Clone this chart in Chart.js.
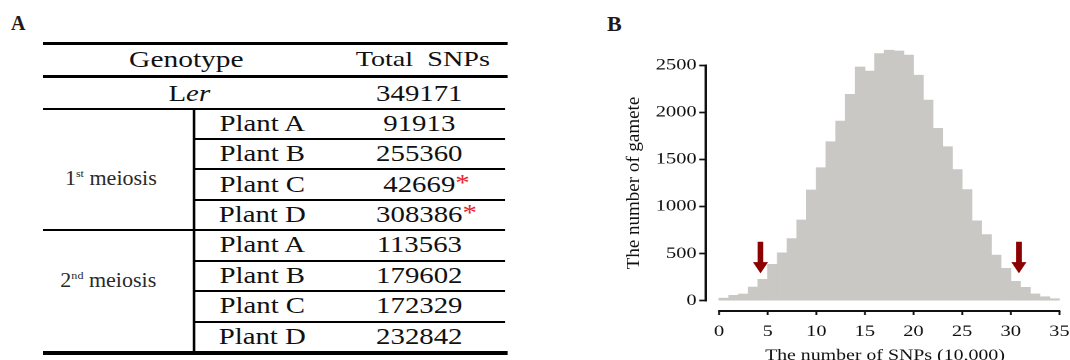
<!DOCTYPE html>
<html>
<head>
<meta charset="utf-8">
<script src="https://cdn.jsdelivr.net/npm/chart.js@4.4.1/dist/chart.umd.min.js"></script>
<style>
  html, body { margin: 0; padding: 0; background: #fff; }
  body {
    width: 1070px; height: 360px; overflow: hidden; position: relative;
    font-family: 'Liberation Serif', 'Times New Roman', serif; color: #111;
  }
  .panel-label { position: absolute; font-weight: bold; color: #231815; white-space: nowrap; }
  #table {
    position: absolute; left: 42.7px; top: 0; width: 363.3px; height: 360px;
    transform: scaleX(1.28); transform-origin: 0 0;
  }
  .rule { position: absolute; background: #000; }
  .cell { position: absolute; text-align: center; white-space: nowrap; }
  .cell .num { position: relative; }
  .star { position: absolute; left: 100%; top: 0; color: #e8232a; }
  .group sup { font-size: 0.55em; vertical-align: 0.75em; line-height: 0; }
  #chartBox {
    position: absolute; left: 600px; top: 0; width: 380px; height: 372px;
    transform: scaleX(1.28); transform-origin: 0 0;
  }
</style>
</head>
<body>
<div class="panel-label" id="labelA" style="left:11px;top:13.2px;font-size:20px;line-height:20px;">A</div>
<div class="panel-label" id="labelB" style="left:607px;top:13px;font-size:22px;line-height:22px;">B</div>
<div id="table"></div>
<div id="chartBox"><canvas id="hist" width="380" height="372"></canvas></div>

<script>
// ---- Table: total SNPs per genotype ----
const HEADERS = ['Genotype', 'Total\u00a0 SNPs'];
const REFERENCE_NAME = ['L', 'er'];          // "L" upright, "er" italic
const REFERENCE_SNPS = 349171;
const PLANTS = ['Plant A', 'Plant B', 'Plant C', 'Plant D'];
const MEIOSIS_ORDINALS = [['1', 'st'], ['2', 'nd']];
const MEIOSIS_1_SNPS = [91913, 255360, 42669, 308386];
const MEIOSIS_2_SNPS = [113563, 179602, 172329, 232842];
const MEIOSIS_1_FLAGGED = [false, false, true, true];
const MEIOSIS_2_FLAGGED = [false, false, false, false];

// ---- Histogram: gametes per SNP-count bin (bins of 10,000 SNPs) ----
const SNP_BIN_START = [0, 1, 2, 3, 4, 5, 6, 7, 8, 9, 10, 11, 12, 13, 14, 15, 16,
  17, 18, 19, 20, 21, 22, 23, 24, 25, 26, 27, 28, 29, 30, 31, 32, 33, 34];
const GAMETE_COUNTS = [27, 57, 71, 145, 227, 386, 508, 660, 857, 1176, 1413, 1689,
  1908, 2192, 2482, 2439, 2625, 2660, 2652, 2609, 2395, 2131, 1831, 1635, 1393,
  1180, 848, 702, 485, 344, 206, 142, 72, 42, 21];
const X_TICKS = [0, 5, 10, 15, 20, 25, 30, 35];
const Y_TICKS = [0, 500, 1000, 1500, 2000, 2500];
const BIN_WIDTH = 1;
const SNP_UNIT = 10000;
const X_TITLE = 'The number of SNPs (10,000)';
const Y_TITLE = 'The number of gamete';

// ---------------- table drawing ----------------
const tableEl = document.getElementById('table');
const TL = {
  width: 363.3, thinRight: 361.2, split: 117.8,
  genoX: 112, plantX: 171.3, numX: 294,
  rowTop0: 107.5, rowH: 30.44, font: 22.5
};
const rowTop = i => TL.rowTop0 + i * TL.rowH;

function rule(x, y, w, h) {
  const d = document.createElement('div');
  d.className = 'rule';
  Object.assign(d.style, { left: x + 'px', top: y + 'px', width: w + 'px', height: h + 'px' });
  tableEl.appendChild(d);
}
function cell(html, cx, cy, size, cls) {
  const d = document.createElement('div');
  d.className = 'cell' + (cls ? ' ' + cls : '');
  Object.assign(d.style, {
    left: (cx - 100) + 'px', width: '200px', top: (cy - size / 2) + 'px',
    height: size + 'px', lineHeight: size + 'px', fontSize: size + 'px'
  });
  d.innerHTML = html;
  tableEl.appendChild(d);
  return d;
}
function numberHtml(v, flagged) {
  return '<span class="num">' + v + (flagged ? '<span class="star">*</span>' : '') + '</span>';
}

// horizontal rules
rule(0, 42, TL.width, 3);
rule(0, 75, TL.width, 3);
for (let i = 0; i < 8; i++) {
  const full = (i === 0 || i === 4);
  const x0 = full ? 0 : TL.split;
  rule(x0, rowTop(i), TL.thinRight - x0, 2);
}
rule(0, rowTop(8), TL.width, 3.5);
// vertical divider between group and plant columns
rule(TL.split - 0.8, rowTop(0), 1.6, rowTop(8) - rowTop(0) + 2);

// header + reference line
cell(HEADERS[0], TL.genoX, 59.2, 23);
cell(HEADERS[1], 296.7, 59.2, 22);
cell(REFERENCE_NAME[0] + '<i>' + REFERENCE_NAME[1] + '</i>', 114.3, 94.5, TL.font);
cell(String(REFERENCE_SNPS), TL.numX, 94.5, TL.font);

// meiosis groups
const GROUPS = [
  { snps: MEIOSIS_1_SNPS, flagged: MEIOSIS_1_FLAGGED, labelX: 53, labelY: 178 },
  { snps: MEIOSIS_2_SNPS, flagged: MEIOSIS_2_FLAGGED, labelX: 51.3, labelY: 280 }
];
GROUPS.forEach((g, gi) => {
  const ord = MEIOSIS_ORDINALS[gi];
  const lab = cell(ord[0] + '<sup>' + ord[1] + '</sup> meiosis', g.labelX, g.labelY, 20, 'group');
  lab.style.color = '#2a2a2a';
  lab.style.transform = 'scaleX(0.86)';
  PLANTS.forEach((p, pi) => {
    const r = gi * PLANTS.length + pi;
    const cy = rowTop(r) + 1.2 + TL.rowH / 2;
    cell(p, TL.plantX, cy, TL.font);
    cell(numberHtml(g.snps[pi], g.flagged[pi]), TL.numX, cy, TL.font);
  });
});

// ---------------- histogram ----------------
const STRETCH = 1.28;   // horizontal scale applied to #chartBox
const FONT = "'Liberation Serif', 'Times New Roman', serif";
Chart.defaults.font.family = FONT;
Chart.defaults.color = '#111';

const flaggedSnps = MEIOSIS_1_SNPS.filter((_, i) => MEIOSIS_1_FLAGGED[i])
  .concat(MEIOSIS_2_SNPS.filter((_, i) => MEIOSIS_2_FLAGGED[i]));

// detached axis lines spanning only the first..last tick
const axisLines = {
  id: 'axisLines',
  afterDraw(chart) {
    const { ctx, chartArea, scales: { x, y } } = chart;
    ctx.save();
    ctx.strokeStyle = '#111';
    ctx.lineWidth = 1.8;
    ctx.beginPath();
    ctx.moveTo(chartArea.left, y.getPixelForValue(Y_TICKS[Y_TICKS.length - 1]) - 0.85);
    ctx.lineTo(chartArea.left, y.getPixelForValue(Y_TICKS[0]) + 0.85);
    ctx.stroke();
    ctx.lineWidth = 2;
    ctx.beginPath();
    ctx.moveTo(x.getPixelForValue(X_TICKS[0]) - 0.75, chartArea.bottom);
    ctx.lineTo(x.getPixelForValue(X_TICKS[X_TICKS.length - 1]) + 0.75, chartArea.bottom);
    ctx.stroke();
    ctx.restore();
  }
};

// down arrows marking the flagged plants' SNP totals
const flagArrows = {
  id: 'flagArrows',
  afterDatasetsDraw(chart, args, opts) {
    const { ctx, scales: { x, y } } = chart;
    const tip = y.getPixelForValue(opts.tipValue);
    ctx.save();
    ctx.fillStyle = opts.color;
    opts.values.forEach(v => {
      const cx = x.getPixelForValue(v / SNP_UNIT);
      const headTop = tip - opts.headLength;
      const top = tip - opts.length;
      ctx.beginPath();
      ctx.moveTo(cx - opts.shaftHalf, top);
      ctx.lineTo(cx + opts.shaftHalf, top);
      ctx.lineTo(cx + opts.shaftHalf, headTop);
      ctx.lineTo(cx + opts.headHalf, headTop);
      ctx.lineTo(cx, tip);
      ctx.lineTo(cx - opts.headHalf, headTop);
      ctx.lineTo(cx - opts.shaftHalf, headTop);
      ctx.closePath();
      ctx.fill();
    });
    ctx.restore();
  }
};

// vertical axis title, drawn with the box's horizontal stretch undone
const yAxisTitle = {
  id: 'yAxisTitle',
  afterDraw(chart, args, opts) {
    const { ctx, scales: { y } } = chart;
    const cy = (y.getPixelForValue(Y_TICKS[0]) + y.getPixelForValue(Y_TICKS[Y_TICKS.length - 1])) / 2;
    ctx.save();
    ctx.translate(opts.x, cy);
    ctx.scale(1 / STRETCH, 1);
    ctx.rotate(-Math.PI / 2);
    ctx.font = opts.size + 'px ' + FONT;
    ctx.fillStyle = '#111';
    ctx.textAlign = 'center';
    ctx.textBaseline = 'middle';
    ctx.fillText(opts.text, 0, 0);
    ctx.restore();
  }
};

new Chart(document.getElementById('hist'), {
  type: 'bar',
  data: {
    datasets: [{
      label: Y_TITLE,
      data: SNP_BIN_START.map((b, i) => ({ x: b + BIN_WIDTH / 2, y: GAMETE_COUNTS[i] })),
      backgroundColor: '#c9c8c4',
      borderWidth: 0,
      barPercentage: 1,
      categoryPercentage: 1,
      clip: false
    }]
  },
  options: {
    responsive: false,
    animation: false,
    devicePixelRatio: 2,
    layout: { padding: { left: 0, right: 17.4, top: 55.9, bottom: 0 } },
    plugins: {
      legend: { display: false },
      tooltip: { enabled: false },
      flagArrows: {
        values: flaggedSnps, tipValue: 290, color: '#8b0000',
        length: 31.6, headLength: 11.3, shaftHalf: 2.2, headHalf: 5.9
      },
      yAxisTitle: { text: Y_TITLE, x: 26.7, size: 19 }
    },
    scales: {
      x: {
        type: 'linear',
        min: -1.365, max: 35.49,
        offset: false,
        afterFit: s => { s.height = 61; },
        afterBuildTicks: s => { s.ticks = X_TICKS.map(v => ({ value: v })); },
        ticks: {
          font: { size: 16 }, color: '#111', padding: 7.1,
          maxRotation: 0, minRotation: 0, autoSkip: false,
          callback: v => String(v)
        },
        grid: {
          offset: false, drawOnChartArea: false, drawTicks: true,
          tickLength: 4, tickWidth: 1.5, tickColor: '#111'
        },
        border: { display: false },
        title: {
          display: true, text: X_TITLE, color: '#111',
          font: { size: 15.5 }, padding: { top: 0, bottom: 6.9 }
        }
      },
      y: {
        min: -109.4, max: 2600,
        afterFit: s => { s.width = 82.6; },
        afterBuildTicks: s => { s.ticks = Y_TICKS.map(v => ({ value: v })); },
        ticks: {
          font: { size: 16 }, color: '#111', padding: 2.1,
          callback: v => String(v)
        },
        grid: {
          drawOnChartArea: false, drawTicks: true,
          tickLength: 5, tickWidth: 1.7, tickColor: '#111'
        },
        border: { display: false },
        title: { display: false }
      }
    }
  },
  plugins: [axisLines, flagArrows, yAxisTitle]
});
</script>
</body>
</html>
